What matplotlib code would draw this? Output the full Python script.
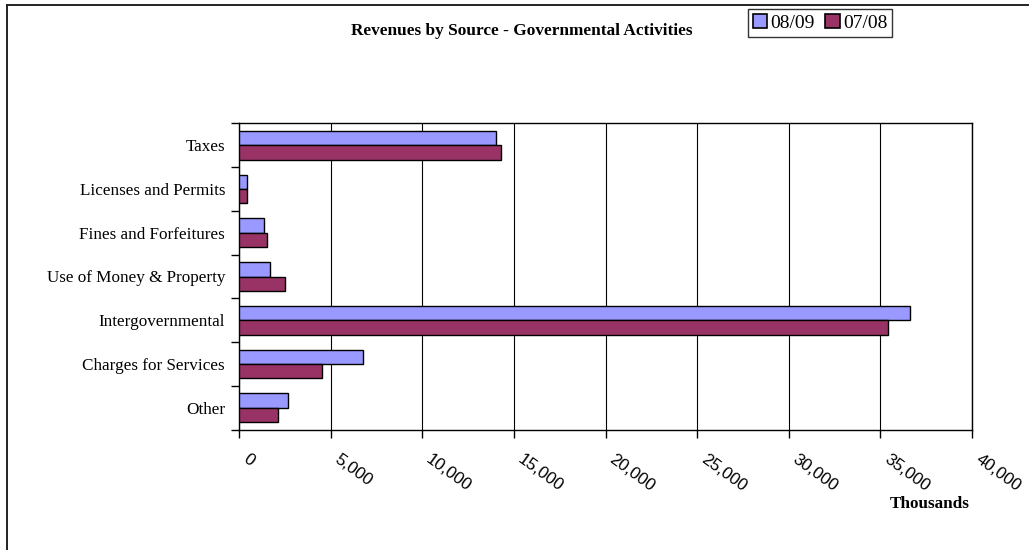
import matplotlib
matplotlib.use("Agg")
import matplotlib.pyplot as plt
import matplotlib.transforms as mtransforms
import numpy as np
from matplotlib.patches import Patch
from matplotlib.lines import Line2D

categories = ["Taxes", "Licenses and Permits", "Fines and Forfeitures",
              "Use of Money & Property", "Intergovernmental",
              "Charges for Services", "Other"]
fy0809 = [14030, 450, 1380, 1710, 36620, 6790, 2660]
fy0708 = [14280, 450, 1550, 2530, 35440, 4550, 2110]
series_labels = ["08/09", "07/08"]
x_ticks = [0, 5000, 10000, 15000, 20000, 25000, 30000, 35000, 40000]
x_tick_labels = ["0", "5,000", "10,000", "15,000", "20,000", "25,000",
                 "30,000", "35,000", "40,000"]

SERIF = "Liberation Serif"
SANS = "Liberation Sans"
c1 = "#9999FF"
c2 = "#993366"

W, H = 1029, 550
fig = plt.figure(figsize=(W / 100, H / 100), dpi=100)
left, right, top, bottom = 239, 972, 123.5, 429.5
ax = fig.add_axes([left / W, 1 - bottom / H, (right - left) / W, (bottom - top) / H])

y = np.arange(len(categories))
h = 0.327
ax.barh(y - h / 2, fy0809, height=h, color=c1, edgecolor="black", linewidth=1.0, zorder=3)
ax.barh(y + h / 2, fy0708, height=h, color=c2, edgecolor="black", linewidth=1.0, zorder=3)

ax.set_ylim(len(categories) - 0.5, -0.5)
ax.set_xlim(0, 40000)

ax.set_yticks(y)
ax.set_yticklabels(categories, fontfamily=SERIF, fontsize=12.3)
ax.set_yticks(np.arange(-0.5, len(categories), 1.0), minor=True)
ax.tick_params(axis="y", which="major", length=0, pad=10)
ax.tick_params(axis="y", which="minor", length=6, width=1.0, direction="out")

ax.set_xticks(x_ticks)
ax.set_xticklabels(x_tick_labels, fontfamily=SANS, fontsize=12.2,
                   rotation=-36, ha="left", va="top", rotation_mode="anchor")
ax.tick_params(axis="x", which="major", length=6, width=1.0, direction="out", pad=10)
offset = mtransforms.ScaledTranslation(0.10, 0.0, fig.dpi_scale_trans)
for lab in ax.get_xticklabels():
    lab.set_transform(lab.get_transform() + offset)

ax.grid(axis="x", color="black", linewidth=0.8, zorder=0)
for s in ax.spines.values():
    s.set_linewidth(1.0)
    s.set_color("black")

fig.text(930 / W, 1 - 504 / H, "Thousands", fontfamily=SERIF, fontweight="bold",
         fontsize=12.3, ha="center", va="center")
fig.text(522 / W, 1 - 35 / H, "Revenues by Source - Governmental Activities",
         fontfamily=SERIF, fontweight="bold", fontsize=12.4, ha="center", va="baseline")

handles = [Patch(facecolor=c1, edgecolor="black", linewidth=1.2),
           Patch(facecolor=c2, edgecolor="black", linewidth=1.2)]
leg = fig.legend(handles, series_labels, loc="upper left",
                 bbox_to_anchor=(748 / W, 1 - 9 / H), borderaxespad=0,
                 ncol=2, frameon=True, fancybox=False, edgecolor="black",
                 handlelength=0.75, handleheight=0.75, handletextpad=0.15,
                 columnspacing=0.55, borderpad=0.25,
                 prop={"family": SERIF, "size": 14})
leg.get_frame().set_linewidth(1.0)

fig.add_artist(Line2D([6.5 / W, 6.5 / W], [0, 1 - 5 / H], color="#222222", linewidth=1.4))
fig.add_artist(Line2D([6.5 / W, 1], [1 - 5 / H, 1 - 5 / H], color="#222222", linewidth=1.4))

fig.savefig("out.png", dpi=100, facecolor="white")
